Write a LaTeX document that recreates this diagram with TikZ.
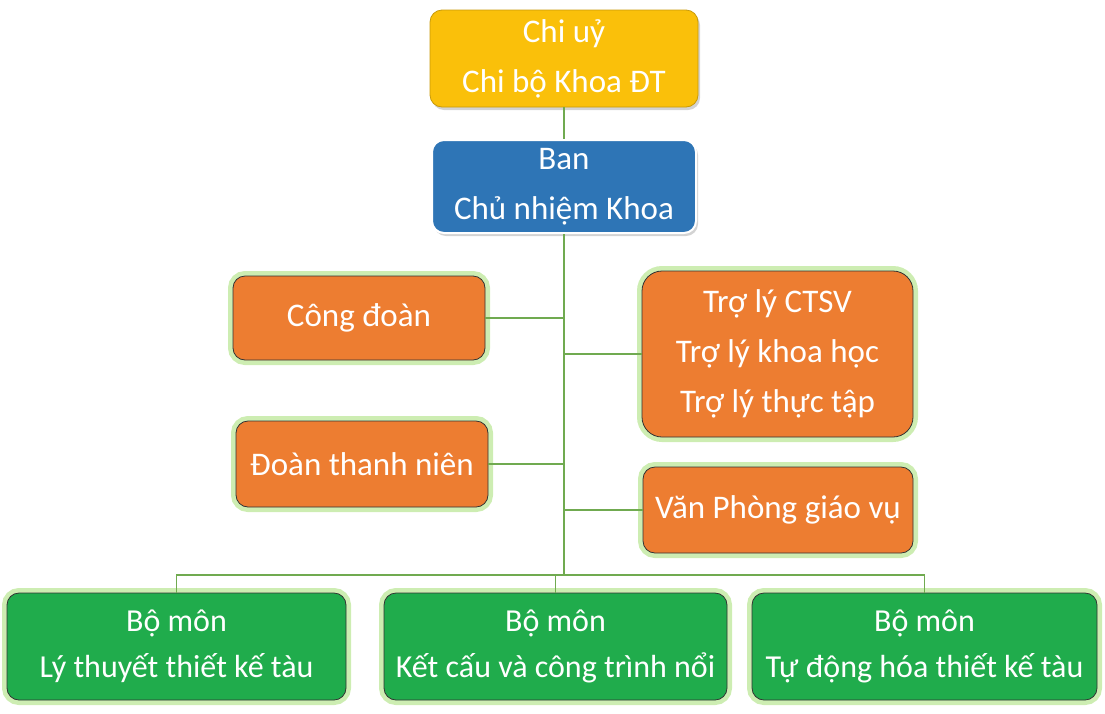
\documentclass[tikz,border=0pt]{standalone}
\usepackage{fontspec}
\setmainfont{Carlito}
\usetikzlibrary{shadows}

\definecolor{uyyellow}{RGB}{250,192,10}
\definecolor{banblue}{RGB}{46,117,182}
\definecolor{unitorange}{RGB}{237,125,49}
\definecolor{bmgreen}{RGB}{32,172,76}
\definecolor{glowgreen}{RGB}{205,237,178}
\definecolor{linkgreen}{RGB}{112,170,80}

\begin{document}
\begin{tikzpicture}[x=1pt, y=-1pt,
    box/.style={rounded corners=12pt, text=white, align=center, inner sep=0pt,
        font=\fontsize{33}{50}\selectfont},
    topbox/.style={box, drop shadow={shadow xshift=2pt, shadow yshift=-3pt, opacity=0.35}},
    unitbox/.style={box, fill=unitorange, draw=black!80, line width=0.8pt,
        preaction={draw=glowgreen, line width=10pt}},
    bmbox/.style={box, fill=bmgreen, draw=black!80, line width=0.8pt,
        font=\fontsize{32}{46}\selectfont,
        preaction={draw=glowgreen, line width=10pt}},
    link/.style={draw=linkgreen, line width=1.2pt}]

    % Fix the page to the size of the reference
    \useasboundingbox (0,0) rectangle (1105,713);

    % Top of the chart
    \node[topbox, fill=uyyellow, draw=uyyellow!80!black, line width=0.8pt,
        minimum width=268pt, minimum height=97pt] (chiuy) at (564,58.5)
        {Chi uỷ\\Chi bộ Khoa ĐT};
    \node[topbox, fill=banblue, draw=white, line width=2pt,
        minimum width=264pt, minimum height=93pt] (ban) at (564,186.5)
        {Ban\\Chủ nhiệm Khoa};

    % Units beside the trunk
    \node[unitbox, minimum width=252pt, minimum height=84pt] (congdoan) at (359,318) {Công đoàn};
    \node[unitbox, minimum width=252pt, minimum height=86pt] (doan) at (362,464) {Đoàn thanh niên};
    \node[unitbox, rounded corners=20pt, minimum width=271pt, minimum height=166pt] (trolyct) at (777.5,354)
        {Trợ lý CTSV\\Trợ lý khoa học\\Trợ lý thực tập};
    \node[unitbox, minimum width=270pt, minimum height=86pt] (vanphong) at (778,510) {Văn Phòng giáo vụ};

    % Departments at the bottom
    \node[bmbox, minimum width=339pt, minimum height=107pt] (bomon1) at (176.5,646.5)
        {Bộ môn\\Lý thuyết thiết kế tàu};
    \node[bmbox, minimum width=343pt, minimum height=107pt] (bomon2) at (555.5,646.5)
        {Bộ môn\\Kết cấu và công trình nổi};
    \node[bmbox, minimum width=345pt, minimum height=107pt] (bomon3) at (924.5,646.5)
        {Bộ môn\\Tự động hóa thiết kế tàu};

    % Trunk and branches
    \coordinate (bus) at (564,575);
    \draw[link] (chiuy) -- (ban);
    \draw[link] (ban) -- (bus);
    \draw[link] (congdoan.east) -- (congdoan.east -| bus);
    \draw[link] (doan.east) -- (doan.east -| bus);
    \draw[link] (trolyct.west) -- (trolyct.west -| bus);
    \draw[link] (vanphong.west) -- (vanphong.west -| bus);
    \draw[link] (bomon1.north) |- (bus) -| (bomon3.north);
    \draw[link] (bus -| bomon2.north) -- (bomon2.north);

\end{tikzpicture}
\end{document}
